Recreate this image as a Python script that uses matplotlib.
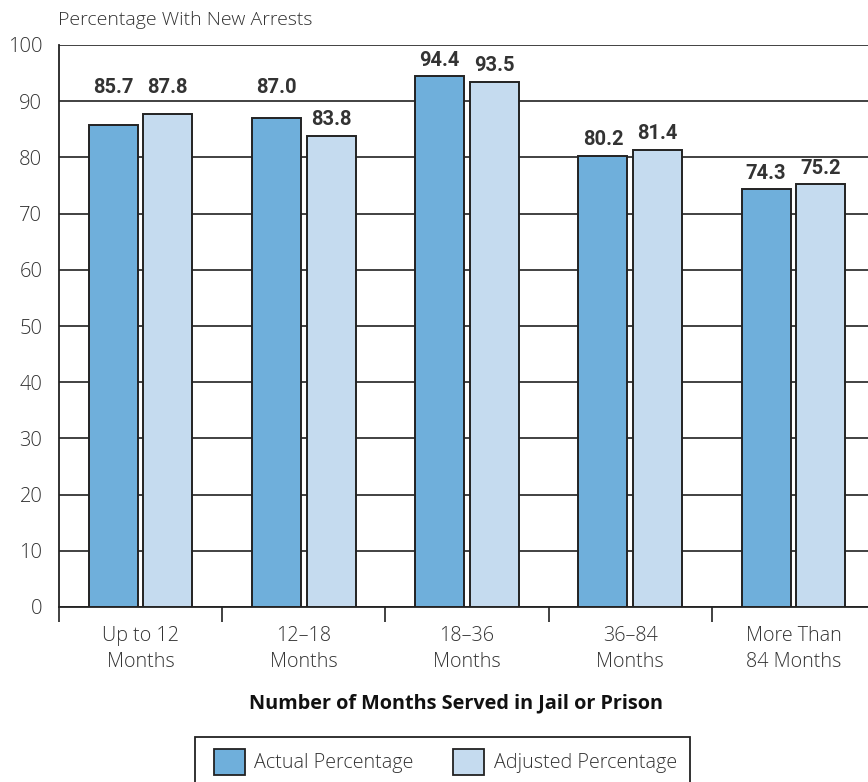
import numpy as np
import matplotlib
matplotlib.use("Agg")
import matplotlib.pyplot as plt
from matplotlib.patches import Patch, Rectangle

# Share of people with new arrests, by time served
categories = ["Up to 12\nMonths", "12\u201318\nMonths", "18\u201336\nMonths",
              "36\u201384\nMonths", "More Than\n84 Months"]
actual = [85.7, 87.0, 94.4, 80.2, 74.3]
adjusted = [87.8, 83.8, 93.5, 81.4, 75.2]

actual_color = "#6fafdb"
adjusted_color = "#c5dbef"
edge = "#222222"
text_color = "#333333"

plt.rcParams["font.family"] = ["Open Sans", "DejaVu Sans"]
plt.rcParams["font.weight"] = "light"

W, H = 868, 782
fig = plt.figure(figsize=(W / 100, H / 100), dpi=100)
# axes runs off the right edge of the figure
ax = fig.add_axes([59 / W, 1 - 607 / H, 816 / W, (607 - 45) / H])

x = np.arange(len(categories)) + 0.5
width = 0.30
offset = 0.167

ax.bar(x - offset, actual, width, color=actual_color, edgecolor=edge, linewidth=1.4, zorder=3)
ax.bar(x + offset, adjusted, width, color=adjusted_color, edgecolor=edge, linewidth=1.4, zorder=3)


def label_y(v):
    # put label above the bar, bumping it above a gridline it would sit on
    y = v + 2.9
    nearest = round(y / 10) * 10
    if abs(y - nearest) < 1.8:
        y = nearest + 2.4
    return y


for xs, vals in ((x - offset, actual), (x + offset, adjusted)):
    for xi, v in zip(xs, vals):
        ax.text(xi, label_y(v), f"{v:.1f}", ha="center", va="center",
                fontsize=14.5, fontweight="bold", color=text_color,
                family=["Roboto", "DejaVu Sans"], zorder=4)

ax.set_xlim(0, len(categories))
ax.set_ylim(0, 100)
ax.set_yticks(range(0, 101, 10))
ax.yaxis.grid(True, color="#333333", linewidth=1.3, zorder=0)
ax.set_axisbelow(True)

ax.set_xticks(x)
ax.set_xticklabels(categories, fontsize=14.2, color=text_color, linespacing=1.35)
ax.set_xticks(np.arange(len(categories) + 1), minor=True)
ax.tick_params(axis="x", which="major", length=0, pad=14)
ax.tick_params(axis="x", which="minor", length=11, width=1.3, color="#333333")
ax.tick_params(axis="y", length=0, pad=12, labelsize=14.5, labelcolor=text_color)

for side in ("top", "right"):
    ax.spines[side].set_visible(False)
for side in ("left", "bottom"):
    ax.spines[side].set_linewidth(1.3)
    ax.spines[side].set_color("#222222")

fig.text(58 / W, 1 - 20 / H, "Percentage With New Arrests", ha="left", va="center",
         fontsize=14, color=text_color)
fig.text(456 / W, 1 - 703 / H, "Number of Months Served in Jail or Prison",
         ha="center", va="center", fontsize=14.3, fontweight="bold", color="#111111")

# legend: box drawn separately so its padding can be set freely
fig.patches.append(Rectangle((195 / W, -0.02), (690 - 195) / W, 0.02 + 45 / H,
                             transform=fig.transFigure, facecolor="white",
                             edgecolor="#222222", linewidth=1.3))
handles = [Patch(facecolor=actual_color, edgecolor=edge, linewidth=1.3, label="Actual Percentage"),
           Patch(facecolor=adjusted_color, edgecolor=edge, linewidth=1.3, label="Adjusted Percentage")]
leg = fig.legend(handles=handles, loc="center left", bbox_to_anchor=(214 / W, 1 - 762 / H),
                 ncol=2, fontsize=14.2, frameon=False, handlelength=1.55,
                 handleheight=1.65, handletextpad=0.5, columnspacing=2.0, borderpad=0,
                 borderaxespad=0)
for t in leg.get_texts():
    t.set_color(text_color)

fig.savefig("out.png", dpi=100)
